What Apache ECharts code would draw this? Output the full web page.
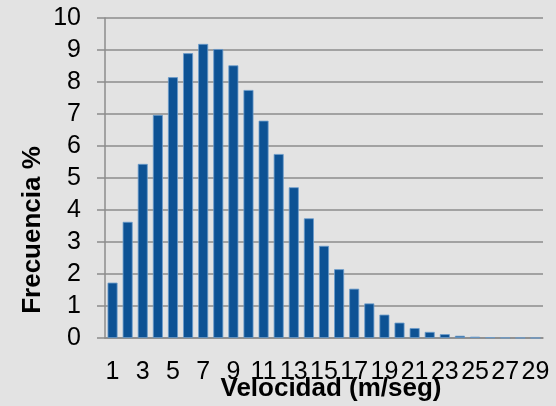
<!DOCTYPE html>
<html>
<head>
<meta charset="utf-8">
<script src="https://cdn.jsdelivr.net/npm/echarts@6/dist/echarts.min.js"></script>
<style>html,body{margin:0;padding:0;background:#e3e3e3;}#c{width:556px;height:406px;}</style>
</head>
<body>
<div id="c"></div>
<script>
const categories = ['1','2','3','4','5','6','7','8','9','10','11','12','13','14','15','16','17','18','19','20','21','22','23','24','25','26','27','28','29'];
const frecuencia = [1.73,3.63,5.44,6.97,8.15,8.9,9.19,9.03,8.52,7.75,6.79,5.75,4.71,3.74,2.88,2.15,1.54,1.08,0.73,0.48,0.31,0.19,0.12,0.07,0.04,0.02,0.01,0.005,0.002];
const yTicks = {min: 0, max: 10, interval: 1};
const xTitle = 'Velocidad (m/seg)';
const yTitle = 'Frecuencia %';

const chart = echarts.init(document.getElementById('c'));
const font = '"Liberation Sans", Arial, sans-serif';
chart.setOption({
  backgroundColor: '#e3e3e3',
  animation: false,
  grid: {left: 105, right: 13, top: 18, bottom: 68, containLabel: false, outerBoundsMode: 'none'},
  xAxis: {
    type: 'category',
    data: categories,
    axisLine: {lineStyle: {color: '#8c8c8c', width: 1.5}},
    axisTick: {show: false},
    axisLabel: {interval: 1, color: '#000', fontFamily: font, fontSize: 25, margin: 22, hideOverlap: false},
    name: xTitle,
    nameLocation: 'middle',
    nameMoveOverlap: false,
    nameGap: 38,
    nameTextStyle: {color: '#000', fontFamily: font, fontSize: 26, fontWeight: 'bold', padding: [0, 0, 0, 14]}
  },
  yAxis: {
    type: 'value',
    min: yTicks.min, max: yTicks.max, interval: yTicks.interval,
    axisLine: {show: true, lineStyle: {color: '#8c8c8c', width: 1.5}},
    axisTick: {show: true, length: 8, lineStyle: {color: '#8c8c8c', width: 1.5}},
    splitLine: {lineStyle: {color: '#8c8c8c', width: 1.5}},
    axisLabel: {color: '#000', fontFamily: font, fontSize: 25, margin: 24},
    name: yTitle,
    nameLocation: 'middle',
    nameMoveOverlap: false,
    nameGap: 59,
    nameRotate: 90,
    nameTextStyle: {color: '#000', fontFamily: font, fontSize: 26, fontWeight: 'bold', padding: [0, 104, 0, 0]}
  },
  series: [{
    type: 'bar',
    data: frecuencia,
    barCategoryGap: '34%',
    itemStyle: {color: '#0d5294', borderColor: '#6b9ccc', borderWidth: 0.8}
  }]
});
</script>
</body>
</html>
